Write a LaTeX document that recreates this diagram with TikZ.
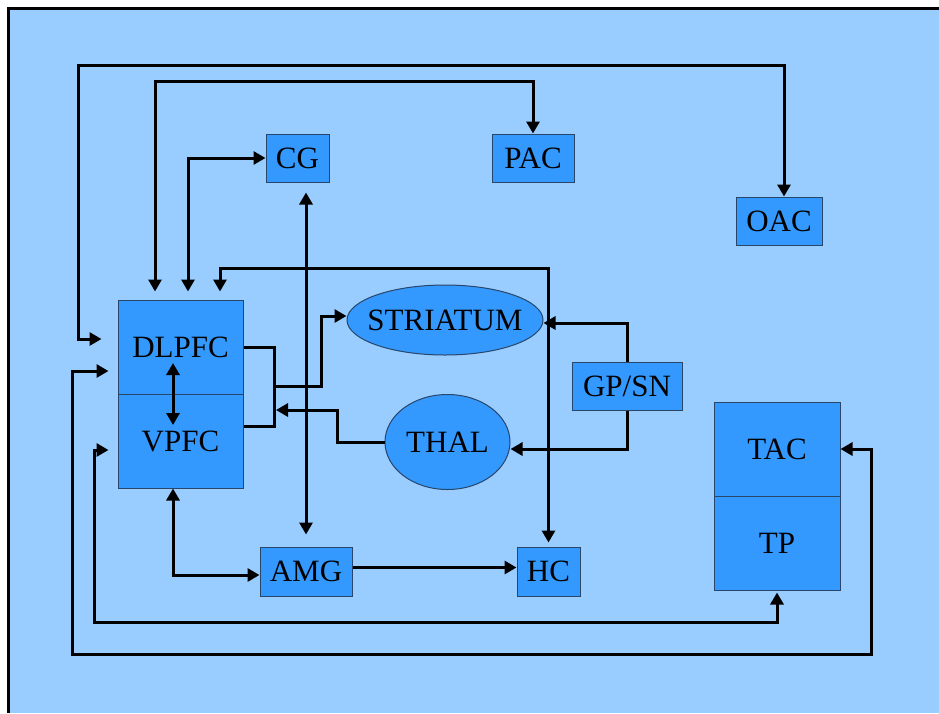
\documentclass[tikz,border=0pt]{standalone}
\usepackage{fontspec}
\setmainfont{Liberation Serif}
\usetikzlibrary{arrows.meta,shapes.geometric}
\definecolor{bglight}{RGB}{153,204,255}
\definecolor{boxblue}{RGB}{51,153,255}
\definecolor{boxline}{RGB}{40,70,105}

\begin{document}
\begin{tikzpicture}[x=1pt,y=-1pt,
  area/.style={draw=boxline,fill=boxblue,line width=1pt,inner sep=0pt,
    font=\fontsize{31}{36}\selectfont},
  lobe/.style={area,ellipse},
  wire/.style={line width=3pt},
  link/.style={wire,-{Triangle[length=12pt,width=13pt]}},
  twoway/.style={wire,{Triangle[length=12pt,width=13pt]}-{Triangle[length=12pt,width=13pt]}}]
  \useasboundingbox (0,0) rectangle (939,713);
  \fill[white] (0,0) rectangle (939,713);
  \fill[bglight] (8,8) rectangle (939,713);
  \draw[line width=3pt] (8,713) -- (8,8) -- (939,8);
  \node[area,minimum width=63pt,minimum height=48pt] (cg) at (297.5,158) {CG};
  \node[area,minimum width=82pt,minimum height=48pt] (pac) at (533,158) {PAC};
  \node[area,minimum width=86pt,minimum height=48pt] (oac) at (779,221) {OAC};
  \node[area,minimum width=125pt,minimum height=94pt] (dlpfc) at (180.5,347) {DLPFC};
  \node[area,minimum width=125pt,minimum height=94pt] (vpfc) at (180.5,441) {VPFC};
  \node[lobe,inner xsep=-30pt,minimum width=196pt,minimum height=70pt] (str) at (445,320) {STRIATUM};
  \node[lobe,minimum width=125pt,minimum height=95pt] (thal) at (447.5,442) {THAL};
  \node[area,minimum width=110pt,minimum height=48pt] (gpsn) at (627,386) {GP/SN};
  \node[area,minimum width=126pt,minimum height=94pt] (tac) at (777,449) {TAC};
  \node[area,minimum width=126pt,minimum height=94pt] (tp) at (777,543) {TP};
  \node[area,minimum width=92pt,minimum height=49pt] (amg) at (306,571.5) {AMG};
  \node[area,minimum width=63pt,minimum height=49pt] (hc) at (548.5,571.5) {HC};
  \coordinate (jn) at (274,386);
  % links from the top
  \draw[twoway] ([xshift=-16pt,yshift=8pt]dlpfc.west) -| (78,65) -| ([xshift=5pt]oac.north);
  \draw[twoway] ([xshift=-25.5pt,yshift=8pt]dlpfc.north) |- (533,81) -- (pac.north);
  \draw[twoway] ([xshift=7.5pt,yshift=8pt]dlpfc.north) |- (cg.west);
  \draw[twoway] ([xshift=39.5pt,yshift=8pt]dlpfc.north) |- (548.5,268) -- ([yshift=4pt]hc.north);
  \draw[twoway] ([xshift=8.5pt,yshift=-10pt]cg.south) -- ([yshift=12pt]amg.north);
  \draw[twoway] ([xshift=-7.5pt,yshift=-16pt]dlpfc.center) -- ([xshift=-7.5pt,yshift=16pt]vpfc.center);
  % striatum and thalamus
  \draw[wire] (dlpfc.east) -| (jn) |- ([yshift=15pt]vpfc.east);
  \draw[link] (jn) -- (321,386) |- ([yshift=4pt]str.west);
  \draw[link] (thal.west) -| (337,410) -- (276,410);
  \draw[link] (gpsn.north) |- ([yshift=-3pt]str.east);
  \draw[link] (gpsn.south) |- ([yshift=-7pt]thal.east);
  % bottom
  \draw[twoway] ([xshift=-7.5pt]vpfc.south) |- ([yshift=-3.5pt]amg.west);
  \draw[link] ([yshift=4pt]amg.east) -- ([yshift=4pt]hc.west);
  \draw[twoway] ([xshift=-9pt,yshift=-9pt]vpfc.west) -| (94,622) -| ([yshift=-2pt]tp.south);
  \draw[twoway] ([xshift=-9pt,yshift=-24pt]dlpfc.west) -| (72,654) -- (871,654) |- (tac.east);
\end{tikzpicture}
\end{document}
